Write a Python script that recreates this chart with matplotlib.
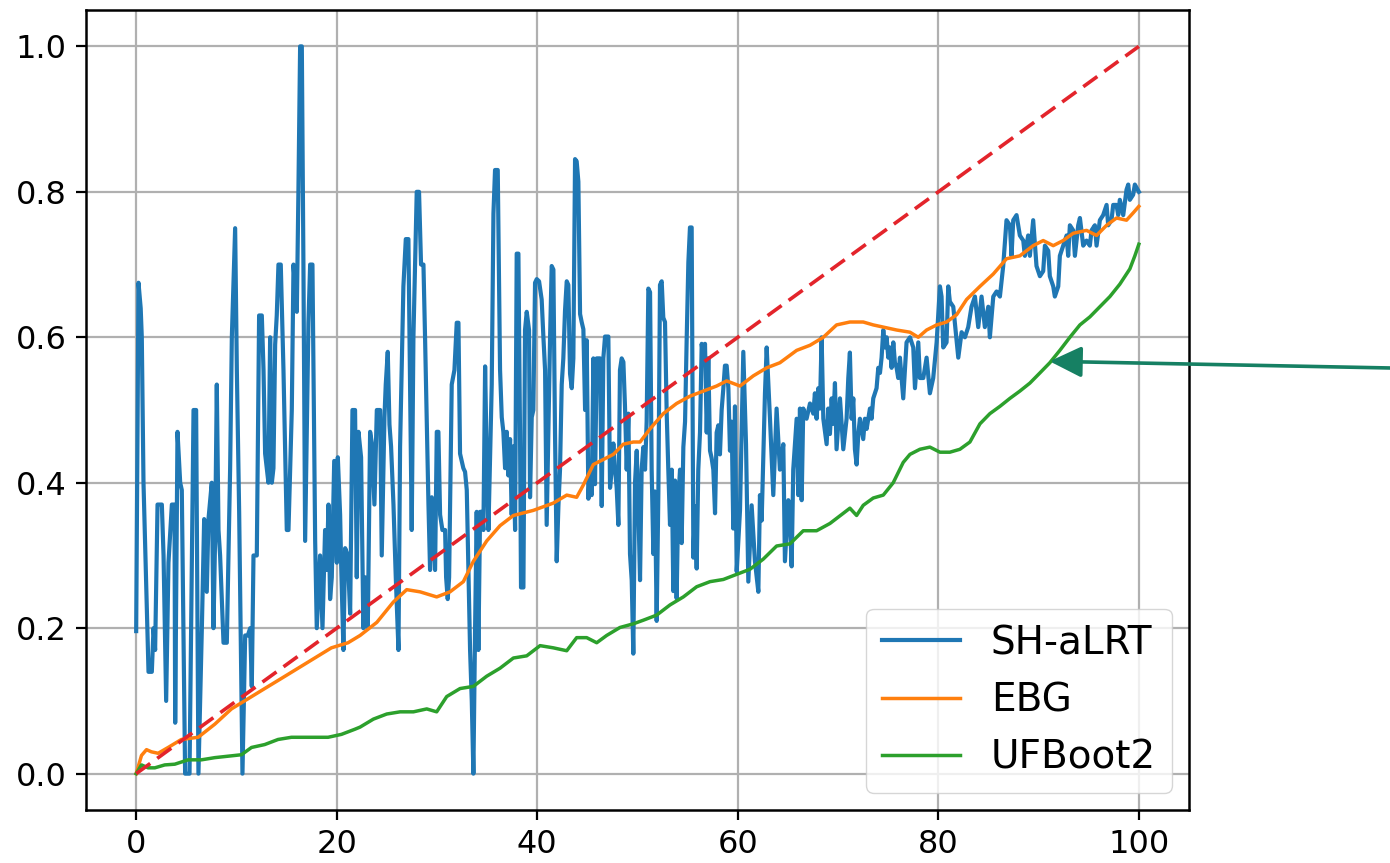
import numpy as np
from matplotlib import pyplot as plt

# SH-aLRT curve, (x, y) points
sh_points = [
    (0, 0.196), (0.23, 0.675), (0.45, 0.64), (0.56, 0.60), (0.73, 0.40), (1.23, 0.14), (1.56, 0.14),
    (1.73, 0.20), (1.89, 0.17), (2.13, 0.37), (2.56, 0.37), (2.73, 0.30), (2.99, 0.10), (3.22, 0.29),
    (3.56, 0.37), (3.82, 0.37), (3.89, 0.07), (4.12, 0.47), (4.39, 0.40), (4.55, 0.39), (4.88, 0.0),
    (5.32, 0.0), (5.72, 0.50), (5.98, 0.50), (6.21, 0.0), (6.55, 0.20), (6.78, 0.35), (7.04, 0.25),
    (7.21, 0.35), (7.54, 0.40), (7.71, 0.20), (7.88, 0.33), (8.04, 0.535), (8.21, 0.335), (8.37, 0.30),
    (8.71, 0.18), (9.04, 0.18), (9.37, 0.42), (9.54, 0.60), (9.87, 0.75), (10.04, 0.555), (10.27, 0.36),
    (10.6, 0.0), (10.87, 0.19), (11.13, 0.19), (11.37, 0.20), (11.53, 0.12), (11.7, 0.30), (12.03, 0.30),
    (12.26, 0.63), (12.53, 0.63), (12.7, 0.555), (12.86, 0.44), (13.19, 0.40), (13.36, 0.60), (13.53, 0.40),
    (13.69, 0.42), (13.86, 0.59), (14.02, 0.63), (14.19, 0.70), (14.42, 0.70), (14.69, 0.555), (15.02, 0.335),
    (15.19, 0.335), (15.52, 0.50), (15.69, 0.70), (16.02, 0.635), (16.18, 0.80), (16.35, 1.0), (16.52, 1.0),
    (16.68, 0.70), (16.85, 0.32), (17.18, 0.62), (17.35, 0.70), (17.58, 0.70), (17.85, 0.32), (18.01, 0.20),
    (18.34, 0.30), (18.58, 0.20), (18.84, 0.335), (19.01, 0.28), (19.18, 0.37), (19.34, 0.24), (19.51, 0.27),
    (19.75, 0.43), (20.01, 0.29), (20.11, 0.435), (20.34, 0.356), (20.44, 0.29), (20.67, 0.17), (20.84, 0.31),
    (21.1, 0.30), (21.34, 0.22), (21.57, 0.50), (21.83, 0.50), (22.0, 0.27), (22.17, 0.47), (22.43, 0.435),
    (22.66, 0.20), (22.83, 0.27), (23.1, 0.20), (23.33, 0.47), (23.5, 0.455), (23.76, 0.37), (24.0, 0.50),
    (24.33, 0.50), (24.49, 0.30), (24.76, 0.49), (24.89, 0.535), (25.09, 0.58), (25.26, 0.48), (25.42, 0.45),
    (25.66, 0.37), (25.89, 0.27), (26.16, 0.17), (26.32, 0.45), (26.65, 0.67), (26.89, 0.735), (27.15, 0.735),
    (27.48, 0.335), (27.65, 0.60), (27.98, 0.80), (28.21, 0.80), (28.41, 0.70), (28.65, 0.70), (28.81, 0.60),
    (29.15, 0.37), (29.31, 0.28), (29.48, 0.38), (29.81, 0.28), (29.98, 0.47), (30.14, 0.47), (30.31, 0.356),
    (30.54, 0.335), (30.81, 0.335), (30.91, 0.27), (31.07, 0.24), (31.21, 0.27), (31.47, 0.535), (31.74, 0.555),
    (31.97, 0.62), (32.14, 0.62), (32.3, 0.44), (32.63, 0.42), (32.8, 0.415), (32.97, 0.39), (33.3, 0.17),
    (33.47, 0.10), (33.63, 0.0), (33.8, 0.20), (33.96, 0.36), (34.13, 0.17), (34.3, 0.36), (34.46, 0.36),
    (34.63, 0.335), (34.8, 0.56), (34.96, 0.43), (35.13, 0.335), (35.46, 0.535), (35.63, 0.77), (35.79, 0.83),
    (36.06, 0.83), (36.29, 0.555), (36.46, 0.49), (36.62, 0.47), (36.79, 0.42), (36.96, 0.47), (37.12, 0.41),
    (37.29, 0.46), (37.45, 0.356), (37.62, 0.45), (37.79, 0.335), (37.95, 0.715), (38.12, 0.715), (38.28, 0.47),
    (38.38, 0.256), (38.62, 0.256), (38.78, 0.61), (38.95, 0.635), (39.18, 0.61), (39.28, 0.38), (39.45, 0.49),
    (39.61, 0.50), (39.78, 0.675), (39.95, 0.68), (40.18, 0.677), (40.44, 0.652), (40.61, 0.601), (40.78, 0.555),
    (40.94, 0.342), (41.11, 0.469), (41.28, 0.601), (41.44, 0.698), (41.61, 0.693), (41.77, 0.469), (41.94, 0.292),
    (42.11, 0.368), (42.27, 0.418), (42.44, 0.535), (42.6, 0.571), (42.77, 0.637), (42.94, 0.677), (43.1, 0.672),
    (43.27, 0.55), (43.44, 0.53), (43.6, 0.571), (43.77, 0.845), (43.93, 0.842), (44.1, 0.814), (44.27, 0.632),
    (44.43, 0.621), (44.6, 0.611), (44.77, 0.5), (44.93, 0.596), (45.1, 0.378), (45.26, 0.418), (45.43, 0.383),
    (45.6, 0.571), (45.76, 0.398), (45.93, 0.571), (46.26, 0.571), (46.43, 0.368), (46.59, 0.571), (46.76, 0.601),
    (47.09, 0.601), (47.26, 0.393), (47.42, 0.418), (47.59, 0.454), (47.76, 0.418), (47.92, 0.393), (48.09, 0.342),
    (48.25, 0.555), (48.42, 0.571), (48.59, 0.566), (48.75, 0.505), (48.92, 0.418), (49.09, 0.495), (49.25, 0.302),
    (49.42, 0.266), (49.58, 0.165), (49.75, 0.40), (49.92, 0.444), (50.08, 0.368), (50.25, 0.266), (50.41, 0.418),
    (50.58, 0.449), (50.75, 0.418), (50.91, 0.484), (51.08, 0.667), (51.25, 0.662), (51.41, 0.418), (51.58, 0.302),
    (51.74, 0.388), (51.91, 0.21), (52.08, 0.388), (52.24, 0.672), (52.41, 0.677), (52.57, 0.627), (52.74, 0.621),
    (52.91, 0.495), (53.07, 0.418), (53.24, 0.342), (53.41, 0.418), (53.57, 0.251), (53.74, 0.403), (53.9, 0.241),
    (54.07, 0.378), (54.24, 0.418), (54.4, 0.317), (54.57, 0.449), (54.74, 0.484), (54.9, 0.596), (55.07, 0.703),
    (55.23, 0.751), (55.4, 0.751), (55.57, 0.297), (55.73, 0.368), (55.9, 0.282), (56.06, 0.418), (56.23, 0.469),
    (56.4, 0.591), (56.56, 0.571), (56.73, 0.591), (56.9, 0.469), (57.06, 0.571), (57.23, 0.444), (57.39, 0.434),
    (57.56, 0.418), (57.73, 0.358), (57.89, 0.469), (58.06, 0.479), (58.22, 0.439), (58.39, 0.5), (58.56, 0.53),
    (58.72, 0.561), (58.89, 0.561), (59.06, 0.53), (59.22, 0.444), (59.39, 0.484), (59.55, 0.337), (59.72, 0.505),
    (59.89, 0.278), (60.22, 0.362), (60.55, 0.58), (60.82, 0.453), (61.05, 0.264), (61.38, 0.369), (61.71, 0.292),
    (62.05, 0.25), (62.21, 0.383), (62.38, 0.348), (62.71, 0.523), (62.88, 0.586), (63.21, 0.488), (63.54, 0.383),
    (63.87, 0.502), (64.2, 0.418), (64.54, 0.453), (64.7, 0.292), (65.04, 0.376), (65.2, 0.348), (65.37, 0.285),
    (65.53, 0.418), (65.87, 0.488), (66.03, 0.383), (66.2, 0.502), (66.37, 0.376), (66.53, 0.502), (66.86, 0.488),
    (67.2, 0.509), (67.53, 0.495), (67.69, 0.523), (67.86, 0.488), (68.03, 0.53), (68.19, 0.502), (68.36, 0.60),
    (68.53, 0.488), (68.86, 0.453), (69.02, 0.502), (69.19, 0.467), (69.36, 0.516), (69.52, 0.481), (69.69, 0.537),
    (69.85, 0.446), (70.19, 0.516), (70.52, 0.446), (70.85, 0.488), (71.02, 0.544), (71.18, 0.579), (71.35, 0.488),
    (71.52, 0.516), (71.68, 0.446), (71.85, 0.425), (72.02, 0.467), (72.18, 0.488), (72.51, 0.46), (72.68, 0.488),
    (72.85, 0.474), (73.18, 0.502), (73.34, 0.488), (73.51, 0.516), (73.84, 0.53), (74.01, 0.558), (74.18, 0.551),
    (74.34, 0.572), (74.51, 0.61), (74.67, 0.586), (74.84, 0.60), (75.01, 0.572), (75.17, 0.586), (75.34, 0.558),
    (75.51, 0.593), (75.67, 0.565), (75.84, 0.558), (76.0, 0.544), (76.17, 0.572), (76.5, 0.516), (76.83, 0.593),
    (77.17, 0.60), (77.5, 0.586), (77.67, 0.53), (78.0, 0.593), (78.16, 0.544), (78.5, 0.544), (78.83, 0.572),
    (79.16, 0.523), (79.49, 0.544), (79.83, 0.593), (80.16, 0.67), (80.32, 0.656), (80.49, 0.586), (80.82, 0.593),
    (80.99, 0.67), (81.15, 0.649), (81.49, 0.642), (81.99, 0.572), (82.32, 0.607), (82.65, 0.60), (82.98, 0.614),
    (83.31, 0.642), (83.65, 0.656), (83.98, 0.614), (84.31, 0.656), (84.64, 0.614), (84.98, 0.642), (85.14, 0.60),
    (85.48, 0.656), (85.81, 0.663), (86.14, 0.656), (86.47, 0.698), (86.8, 0.761), (87.14, 0.754), (87.3, 0.712),
    (87.47, 0.761), (87.8, 0.768), (88.13, 0.74), (88.47, 0.733), (88.63, 0.712), (88.96, 0.74), (89.13, 0.712),
    (89.46, 0.761), (89.79, 0.698), (90.13, 0.684), (90.46, 0.691), (90.63, 0.726), (90.96, 0.719), (91.12, 0.684),
    (91.46, 0.67), (91.62, 0.656), (91.96, 0.67), (92.12, 0.712), (92.45, 0.726), (92.79, 0.74), (92.95, 0.712),
    (93.12, 0.754), (93.45, 0.747), (93.62, 0.712), (93.95, 0.754), (94.12, 0.764), (94.45, 0.726), (94.78, 0.733),
    (95.11, 0.726), (95.28, 0.747), (95.61, 0.754), (95.78, 0.726), (96.11, 0.761), (96.44, 0.768), (96.78, 0.782),
    (96.94, 0.754), (97.27, 0.761), (97.44, 0.782), (97.77, 0.782), (97.94, 0.768), (98.1, 0.789), (98.44, 0.768),
    (98.77, 0.803), (98.94, 0.81), (99.1, 0.789), (99.43, 0.796), (99.6, 0.81), (100, 0.80),
]

# EBG curve
ebg_points = [
    (0, 0.0), (0.53, 0.025), (1.03, 0.033), (1.52, 0.03), (2.19, 0.028), (3.19, 0.036), (4.51, 0.047),
    (6.18, 0.05), (7.84, 0.068), (9.5, 0.089), (11.16, 0.103), (12.82, 0.117), (14.49, 0.131), (16.15, 0.145),
    (17.81, 0.159), (19.47, 0.173), (21.13, 0.18), (22.33, 0.19), (24.0, 0.208), (25.65, 0.236), (26.98, 0.253),
    (28.31, 0.25), (29.97, 0.243), (31.3, 0.25), (32.63, 0.264), (33.63, 0.292), (34.96, 0.32), (36.29, 0.341),
    (37.62, 0.355), (39.61, 0.362), (41.6, 0.372), (42.94, 0.383), (43.93, 0.38), (44.6, 0.397), (45.59, 0.425),
    (46.59, 0.432), (47.59, 0.439), (48.58, 0.453), (49.58, 0.456), (50.25, 0.456), (51.24, 0.474), (52.57, 0.495),
    (53.9, 0.509), (55.23, 0.519), (56.56, 0.526), (57.89, 0.533), (58.89, 0.54), (60.22, 0.533), (61.55, 0.547),
    (62.88, 0.558), (64.2, 0.565), (65.87, 0.582), (67.2, 0.589), (68.53, 0.60), (69.85, 0.617), (71.18, 0.621),
    (72.51, 0.621), (73.51, 0.617), (74.51, 0.614), (75.84, 0.61), (77.17, 0.607), (78.0, 0.60), (78.83, 0.61),
    (79.83, 0.617), (80.82, 0.621), (81.82, 0.631), (82.82, 0.652), (84.15, 0.67), (85.48, 0.687), (86.8, 0.708),
    (88.13, 0.712), (89.46, 0.726), (90.46, 0.733), (91.46, 0.726), (92.45, 0.733), (93.45, 0.743), (94.78, 0.747),
    (95.78, 0.74), (96.78, 0.754), (97.77, 0.764), (98.77, 0.761), (99.43, 0.771), (100, 0.78),
]

# UFBoot2 curve
ufb_points = [
    (0, 0.0), (0.53, 0.012), (1.19, 0.008), (1.86, 0.008), (2.85, 0.012), (3.85, 0.013), (5.18, 0.019),
    (6.51, 0.019), (7.84, 0.022), (9.17, 0.024), (10.5, 0.026), (11.5, 0.036), (12.82, 0.04), (14.15, 0.047),
    (15.48, 0.05), (17.14, 0.05), (19.14, 0.05), (20.47, 0.054), (21.8, 0.061), (22.33, 0.064), (23.66, 0.075),
    (24.99, 0.082), (26.32, 0.085), (27.65, 0.085), (28.98, 0.089), (29.97, 0.085), (30.97, 0.106), (32.3, 0.117),
    (33.63, 0.12), (34.96, 0.134), (36.29, 0.145), (37.62, 0.159), (38.95, 0.162), (40.28, 0.176), (41.6, 0.173),
    (42.94, 0.169), (43.93, 0.187), (44.93, 0.187), (45.93, 0.18), (46.92, 0.19), (48.25, 0.201), (49.58, 0.206),
    (50.58, 0.211), (51.91, 0.218), (53.24, 0.232), (54.57, 0.243), (55.9, 0.257), (57.23, 0.264), (58.56, 0.267),
    (59.88, 0.274), (61.21, 0.281), (62.54, 0.295), (63.87, 0.313), (65.2, 0.316), (66.53, 0.334), (67.86, 0.334),
    (69.19, 0.344), (70.52, 0.358), (71.18, 0.365), (71.85, 0.355), (72.51, 0.369), (73.51, 0.379), (74.51, 0.383),
    (75.5, 0.40), (76.5, 0.428), (77.17, 0.439), (78.16, 0.446), (79.16, 0.449), (80.16, 0.442), (81.15, 0.442),
    (82.15, 0.446), (83.15, 0.456), (84.15, 0.481), (85.14, 0.495), (86.14, 0.505), (87.14, 0.516), (88.13, 0.526),
    (89.13, 0.537), (90.13, 0.551), (91.12, 0.565), (92.12, 0.582), (93.12, 0.60), (94.12, 0.617), (95.11, 0.628),
    (96.11, 0.642), (97.11, 0.656), (98.1, 0.673), (99.1, 0.694), (99.6, 0.712), (100, 0.728),
]

# reference diagonal
diag_x = [0, 100]
diag_y = [0, 1]

x_ticks = [0, 20, 40, 60, 80, 100]
y_ticks = [0.0, 0.2, 0.4, 0.6, 0.8, 1.0]

# arrow pointing at the UFBoot2 curve
arrow_tip = (91.1, 0.567)

sh_x, sh_y = np.array(sh_points).T
ebg_x, ebg_y = np.array(ebg_points).T
ufb_x, ufb_y = np.array(ufb_points).T

fig = plt.figure(figsize=(13.9, 8.63), dpi=100)
ax = fig.add_axes([0.0619, 0.0614, 0.7935, 0.927])

ax.plot(sh_x, sh_y, color='#1f77b4', linewidth=3.0, label='SH-aLRT')
ax.plot(ebg_x, ebg_y, color='#ff7f0e', linewidth=2.5, label='EBG')
ax.plot(ufb_x, ufb_y, color='#2ca02c', linewidth=2.5, label='UFBoot2')
ax.plot(diag_x, diag_y, color='#e3242b', linestyle='--', dashes=(4.8, 2.4), linewidth=2.6)

ax.set_xlim(-5, 105)
ax.set_ylim(-0.05, 1.05)
ax.set_xticks(x_ticks)
ax.set_yticks(y_ticks)
ax.set_yticklabels([f'{v:.1f}' for v in y_ticks])
ax.tick_params(labelsize=23, length=7, width=1.6, pad=7)
ax.grid(True, color='#b0b0b0', linewidth=1.6)
for spine in ax.spines.values():
    spine.set_linewidth(1.8)

ax.legend(loc='lower right', fontsize=28, handlelength=2.0, borderaxespad=0.45)

ax.annotate('', xy=arrow_tip, xycoords='data',
            xytext=(1.0, 0.5736), textcoords='figure fraction',
            arrowprops=dict(arrowstyle='-|>,head_length=1.4,head_width=0.68',
                            color='#168063', lw=2.6, shrinkA=0, shrinkB=0,
                            mutation_scale=14),
            annotation_clip=False)

fig.savefig('out.png', dpi=100)
